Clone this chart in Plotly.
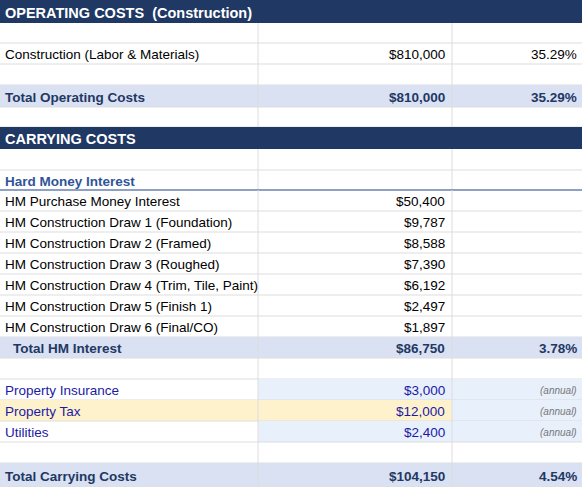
import plotly.graph_objects as go

labels = ["OPERATING COSTS  (Construction)", "", "Construction (Labor & Materials)", "", "Total Operating Costs", "",
          "CARRYING COSTS", "", "Hard Money Interest", "HM Purchase Money Interest",
          "HM Construction Draw 1 (Foundation)", "HM Construction Draw 2 (Framed)", "HM Construction Draw 3 (Roughed)",
          "HM Construction Draw 4 (Trim, Tile, Paint)", "HM Construction Draw 5 (Finish 1)", "HM Construction Draw 6 (Final/CO)",
          "Total HM Interest", "", "Property Insurance", "Property Tax", "Utilities", "", "Total Carrying Costs"]
amounts = ["", "", "$810,000", "", "$810,000", "", "", "", "", "$50,400", "$9,787", "$8,588", "$7,390", "$6,192",
           "$2,497", "$1,897", "$86,750", "", "$3,000", "$12,000", "$2,400", "", "$104,150"]
shares = ["", "", "35.29%", "", "35.29%", "", "", "", "", "", "", "", "", "", "", "", "3.78%", "", "(annual)",
          "(annual)", "(annual)", "", "4.54%"]
kinds = ["head", "blank", "row", "blank", "total", "blank", "head", "blank", "sub", "row", "row", "row", "row", "row",
         "row", "row", "total", "blank", "input", "input", "input", "blank", "total"]
heights = [23, 20, 21, 21, 22, 20, 22, 21, 20, 21, 21, 21, 21, 21, 21, 21, 21, 21, 21, 21, 21, 21, 24]

W, H = 582, 487
X1, X2 = 258, 452
NAVY = "#1f3864"; GRID = "#dddddd"; TOT = "#d9e1f2"; LBLUE = "#e8f0fc"; YEL = "#fdf2cc"
FONT = "Liberation Sans, Arial"

shapes, ann = [], []
def rect(x0, x1, y0, y1, c):
    shapes.append(dict(type="rect", x0=x0, x1=x1, y0=y0, y1=y1, fillcolor=c, line_width=0, layer="below"))
def line(x0, y0, x1, y1, c=GRID, w=1):
    shapes.append(dict(type="line", x0=x0, x1=x1, y0=y0, y1=y1, line=dict(color=c, width=w), layer="below"))
def text(x, y, s, anchor, color, size=13, bold=False, italic=False):
    if bold: s = "<b>" + s + "</b>"
    if italic: s = "<i>" + s + "</i>"
    ann.append(dict(x=x, y=y, text=s, xanchor=anchor, yanchor="middle", showarrow=False,
                    font=dict(family=FONT, size=size, color=color)))

y = 0
for i, k in enumerate(kinds):
    h = heights[i]; y0, y1 = y, y + h; ym = (y0 + y1) / 2 + 1
    if k == "head":
        rect(0, W, y0, y1, NAVY)
    else:
        if k == "total":
            rect(0, W, y0, y1, TOT)
        if k == "input":
            if labels[i] == "Property Tax":
                rect(0, X2, y0, y1, YEL); rect(X2, W, y0, y1, LBLUE)
            else:
                rect(X1, W, y0, y1, LBLUE)
        line(X1, y0, X1, y1); line(X2, y0, X2, y1)
        line(0, y1, W, y1, GRID)
    if k == "sub":
        line(0, y1, W, y1, "#2f5597", 1.2)
    if k == "head":
        text(3, ym, labels[i], "left", "white", 14.5, bold=True)
    elif k == "total":
        indent = 11 if labels[i] == "Total HM Interest" else 3
        text(indent, ym, labels[i], "left", NAVY, 13.5, bold=True)
        text(X2 - 5, ym, amounts[i], "right", NAVY, 13.5, bold=True)
        text(W - 3, ym, shares[i], "right", NAVY, 13.5, bold=True)
    elif k == "sub":
        text(3, ym, labels[i], "left", "#2f5597", 13.5, bold=True)
    elif k == "input":
        text(3, ym, labels[i], "left", "#1a1aa6", 13.5)
        text(X2 - 5, ym, amounts[i], "right", "#1a1aa6", 13.5)
        text(W - 3, ym, shares[i], "right", "#777777", 10, italic=True)
    elif k == "row":
        text(3, ym, labels[i], "left", "black", 13.5)
        text(X2 - 5, ym, amounts[i], "right", "black", 13.5)
        text(W - 3, ym, shares[i], "right", "black", 13.5)
    y = y1

fig = go.Figure(go.Scatter(x=[0, W], y=[0, H], mode="markers", marker_opacity=0, hoverinfo="skip"))
fig.update_layout(width=W, height=H, margin=dict(l=0, r=0, t=0, b=0), paper_bgcolor="white", plot_bgcolor="white",
                  shapes=shapes, annotations=ann, showlegend=False,
                  xaxis=dict(range=[0, W], visible=False, fixedrange=True),
                  yaxis=dict(range=[H, 0], visible=False, fixedrange=True))
fig.write_html("out.html", config={"displayModeBar": False},
               post_script="document.body.style.margin='0';document.body.style.overflow='hidden';")
